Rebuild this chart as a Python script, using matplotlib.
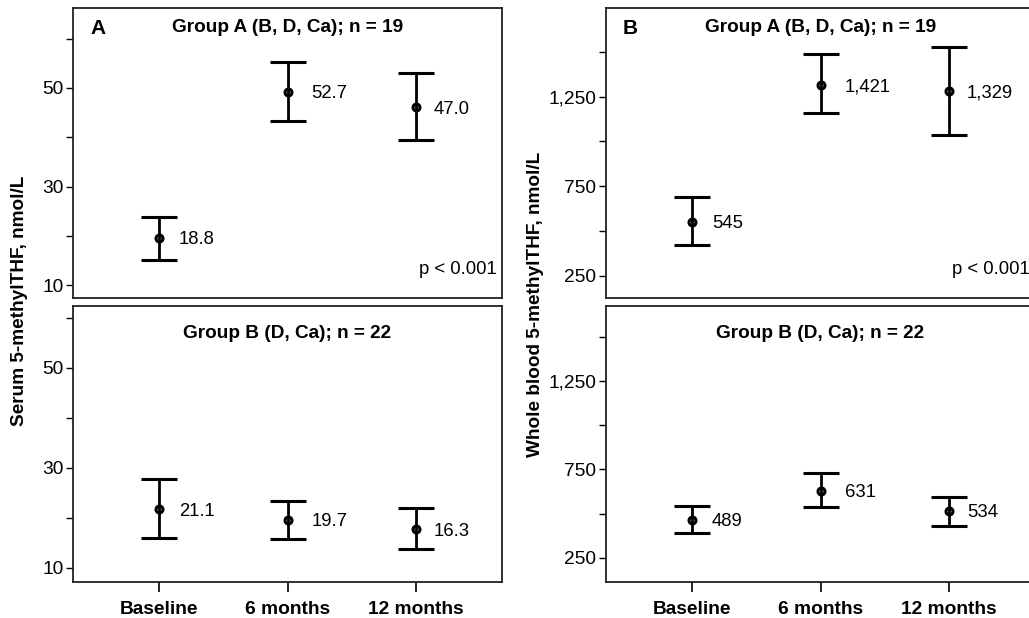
import numpy as np
import matplotlib
matplotlib.use("Agg")
import matplotlib.pyplot as plt
from matplotlib.ticker import MultipleLocator, FuncFormatter

plt.rcParams['font.family'] = ['Liberation Sans', 'DejaVu Sans']

# Data
categories = ["Baseline", "6 months", "12 months"]

# Serum 5-methylTHF (nmol/L)
serum_a_mean = [19.6, 49.2, 46.1]
serum_a_lo = [15.1, 43.3, 39.5]
serum_a_hi = [23.8, 55.3, 53.0]
serum_a_lab = ["18.8", "52.7", "47.0"]

serum_b_mean = [21.8, 19.6, 17.8]
serum_b_lo = [16.0, 15.8, 13.8]
serum_b_hi = [27.8, 23.4, 22.0]
serum_b_lab = ["21.1", "19.7", "16.3"]

# Whole blood 5-methylTHF (nmol/L)
blood_a_mean = [553, 1317, 1284]
blood_a_lo = [424, 1160, 1037]
blood_a_hi = [688, 1486, 1525]
blood_a_lab = ["545", "1,421", "1,329"]

blood_b_mean = [465, 629, 516]
blood_b_lo = [391, 538, 431]
blood_b_hi = [544, 730, 595]
blood_b_lab = ["489", "631", "534"]

W, H = 1029, 618
fig = plt.figure(figsize=(W / 100, H / 100), dpi=100)


def box(x0, y0, x1, y1):
    # pixel box (top-left origin) -> figure fraction
    return [x0 / W, 1 - y1 / H, (x1 - x0) / W, (y1 - y0) / H]


def panel(rect, mean, lo, hi, labels, ylim, step, fmt, title, title_dy,
          letter=None, pval=False, xlabels=False):
    ax = fig.add_axes(rect)
    x = np.arange(len(categories))
    mean = np.array(mean)
    err = [mean - np.array(lo), np.array(hi) - mean]
    ax.errorbar(x, mean, yerr=err, fmt='o', color='black', ms=5, mfc='none',
                mec='black', mew=2.2, elinewidth=2.0, capsize=13, capthick=2.0)
    for xi, yi, lab, dx in zip(x, mean, labels, [20, 24, 18]):
        ax.annotate(lab, (xi, yi), xytext=(dx, -2), textcoords='offset pixels',
                    ha='left', va='center', fontsize=13.3)
    ax.set_xlim(-0.67, 2.67)
    ax.set_ylim(*ylim)
    # majors at odd multiples of the step, minors in between
    ax.yaxis.set_major_locator(MultipleLocator(2 * step, offset=step))
    ax.yaxis.set_minor_locator(MultipleLocator(step))
    ax.yaxis.set_major_formatter(FuncFormatter(fmt))
    ax.tick_params(axis='y', which='both', length=5, width=1.0, labelsize=13.8, pad=2)
    ax.set_xticks(x)
    if xlabels:
        ax.set_xticklabels(categories, fontsize=13.8, fontweight='bold')
        ax.tick_params(axis='x', length=7, width=1.2, pad=7)
    else:
        ax.tick_params(axis='x', length=0, labelbottom=False)
    for s in ax.spines.values():
        s.set_linewidth(1.3)
        s.set_color('#222222')
    ax.text(0.5, 1 - title_dy / (rect[3] * H), title, transform=ax.transAxes,
            ha='center', va='center', fontsize=13.7, fontweight='bold')
    if letter:
        ax.text(17 / (rect[2] * W), 1 - 21 / (rect[3] * H), letter,
                transform=ax.transAxes, ha='left', va='center',
                fontsize=15, fontweight='bold')
    if pval:
        ax.text(1 - 5 / (rect[2] * W), 28 / (rect[3] * H), "p < 0.001",
                transform=ax.transAxes, ha='right', va='center', fontsize=13.3)
    return ax


plain = lambda v, p: f"{v:.0f}"
comma = lambda v, p: f"{v:,.0f}"

panel(box(73, 8, 502, 298), serum_a_mean, serum_a_lo, serum_a_hi, serum_a_lab,
      (7.4, 66.2), 10, plain, "Group A (B, D, Ca); n = 19", 19,
      letter="A", pval=True)
panel(box(73, 306, 502, 582), serum_b_mean, serum_b_lo, serum_b_hi, serum_b_lab,
      (7.2, 62.4), 10, plain, "Group B (D, Ca); n = 22", 27, xlabels=True)
panel(box(606, 8, 1035, 298), blood_a_mean, blood_a_lo, blood_a_hi, blood_a_lab,
      (126, 1745), 250, comma, "Group A (B, D, Ca); n = 19", 19,
      letter="B", pval=True)
panel(box(606, 306, 1035, 582), blood_b_mean, blood_b_lo, blood_b_hi, blood_b_lab,
      (114, 1674), 250, comma, "Group B (D, Ca); n = 22", 27, xlabels=True)

fig.text(20 / W, 1 - 301 / H, "Serum 5-methylTHF, nmol/L", rotation=90,
         ha='center', va='center', fontsize=13.7, fontweight='bold')
fig.text(535 / W, 1 - 304 / H, "Whole blood 5-methylTHF, nmol/L", rotation=90,
         ha='center', va='center', fontsize=13.7, fontweight='bold')

fig.savefig("out.png", dpi=100)
